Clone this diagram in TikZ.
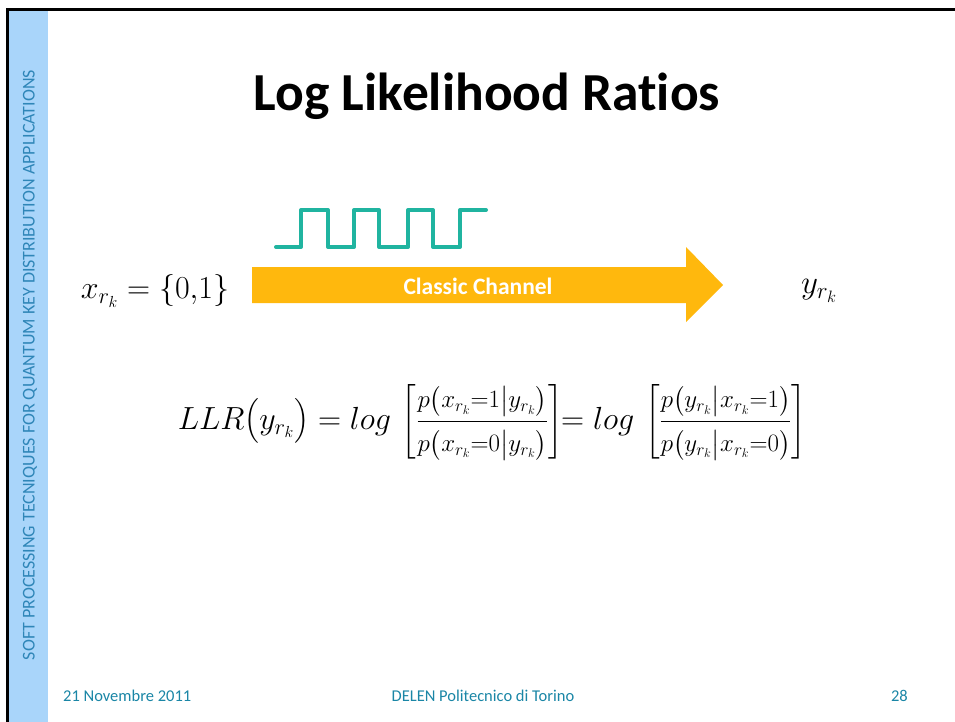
\RequirePackage{fix-cm}
\documentclass[tikz,border=0pt]{standalone}
\usepackage{fontspec}
\setmainfont[Ligatures=CommonOff]{Carlito}
\usepackage{amsmath}
\usetikzlibrary{positioning}
\definecolor{stripA}{HTML}{A9D5FA}
\definecolor{sideA}{HTML}{2F86B8}
\definecolor{footA}{HTML}{1A86A6}
\definecolor{waveA}{HTML}{20B4A0}
\definecolor{chanA}{HTML}{FFB80D}
\newcommand\fracpart[1]{\mbox{\fontsize{25}{28}\selectfont$#1$}}
\tikzset{
  foottext/.style={text=footA, font=\fontsize{16.5}{18}\selectfont, anchor=base, inner sep=0pt},
  mathtext/.style={font=\fontsize{32}{36}\selectfont, inner sep=0pt},
}

\begin{document}
\begin{tikzpicture}[x=1pt, y=-1pt]
      % page frame: 955 x 722 px
      \useasboundingbox (0,0) rectangle (955,722);
      \fill[white] (0,0) rectangle (955,722);

      % side strip and border lines
      \fill[stripA] (9,10) rectangle (48,722);
      \draw[line width=3pt] (7.5,10) -- (955,10);
      \draw[line width=2.5pt] (7.5,8.5) -- (7.5,722);
      \node[rotate=90, text=sideA, font=\fontsize{18}{20}\selectfont, inner sep=0pt]
        (side) at (30,365) {SOFT PROCESSING TECNIQUES FOR QUANTUM KEY DISTRIBUTION APPLICATIONS};

      % title
      \node[anchor=base, font=\bfseries\fontsize{53.5}{58}\selectfont, inner sep=0pt]
        (title) at (487,111) {Log Likelihood Ratios};

      % square wave above the channel
      \draw[waveA, line width=4pt, line cap=round, line join=round]
        (276,247) -- (301,247) -- (301,210) -- (328,210) -- (328,247)
        -- (354,247) -- (354,210) -- (379,210) -- (379,247)
        -- (408,247) -- (408,210) -- (433,210) -- (433,247)
        -- (460,247) -- (460,210) -- (486,210);

      % channel arrow
      \fill[chanA] (252,267) -- (686,267) -- (686,247) -- (723,285)
        -- (686,322) -- (686,303) -- (252,303) -- cycle;
      \node[text=white, font=\bfseries\fontsize{23.5}{26}\selectfont, inner sep=0pt]
        (chan) at (478,286) {Classic Channel};

      % input and output symbols
      \node[mathtext] (xin) at (155,291) {$x_{r_k}=\{0{,}1\}$};
      \node[mathtext, font=\fontsize{33}{38}\selectfont] (yout) at (819,291) {$y_{r_k}$};

      % LLR definition
      \node[mathtext] (llr) at (492,422)
        {$LLR\bigl(y_{r_k}\bigr)=log\,\left[\dfrac{\fracpart{p\bigl(x_{r_k}{=}1\big|y_{r_k}\bigr)}}{\fracpart{p\bigl(x_{r_k}{=}0\big|y_{r_k}\bigr)}}\right]\!\!=log\,\left[\dfrac{\fracpart{p\bigl(y_{r_k}\big|x_{r_k}{=}1\bigr)}}{\fracpart{p\bigl(y_{r_k}\big|x_{r_k}{=}0\bigr)}}\right]$};

      % footer
      \node[foottext, anchor=base west] (date) at (63,701) {21 Novembre 2011};
      \node[foottext] (inst) at (483,701) {DELEN Politecnico di Torino};
      \node[foottext, anchor=base east] (page) at (908,701) {28};
    \end{tikzpicture}
\end{document}
